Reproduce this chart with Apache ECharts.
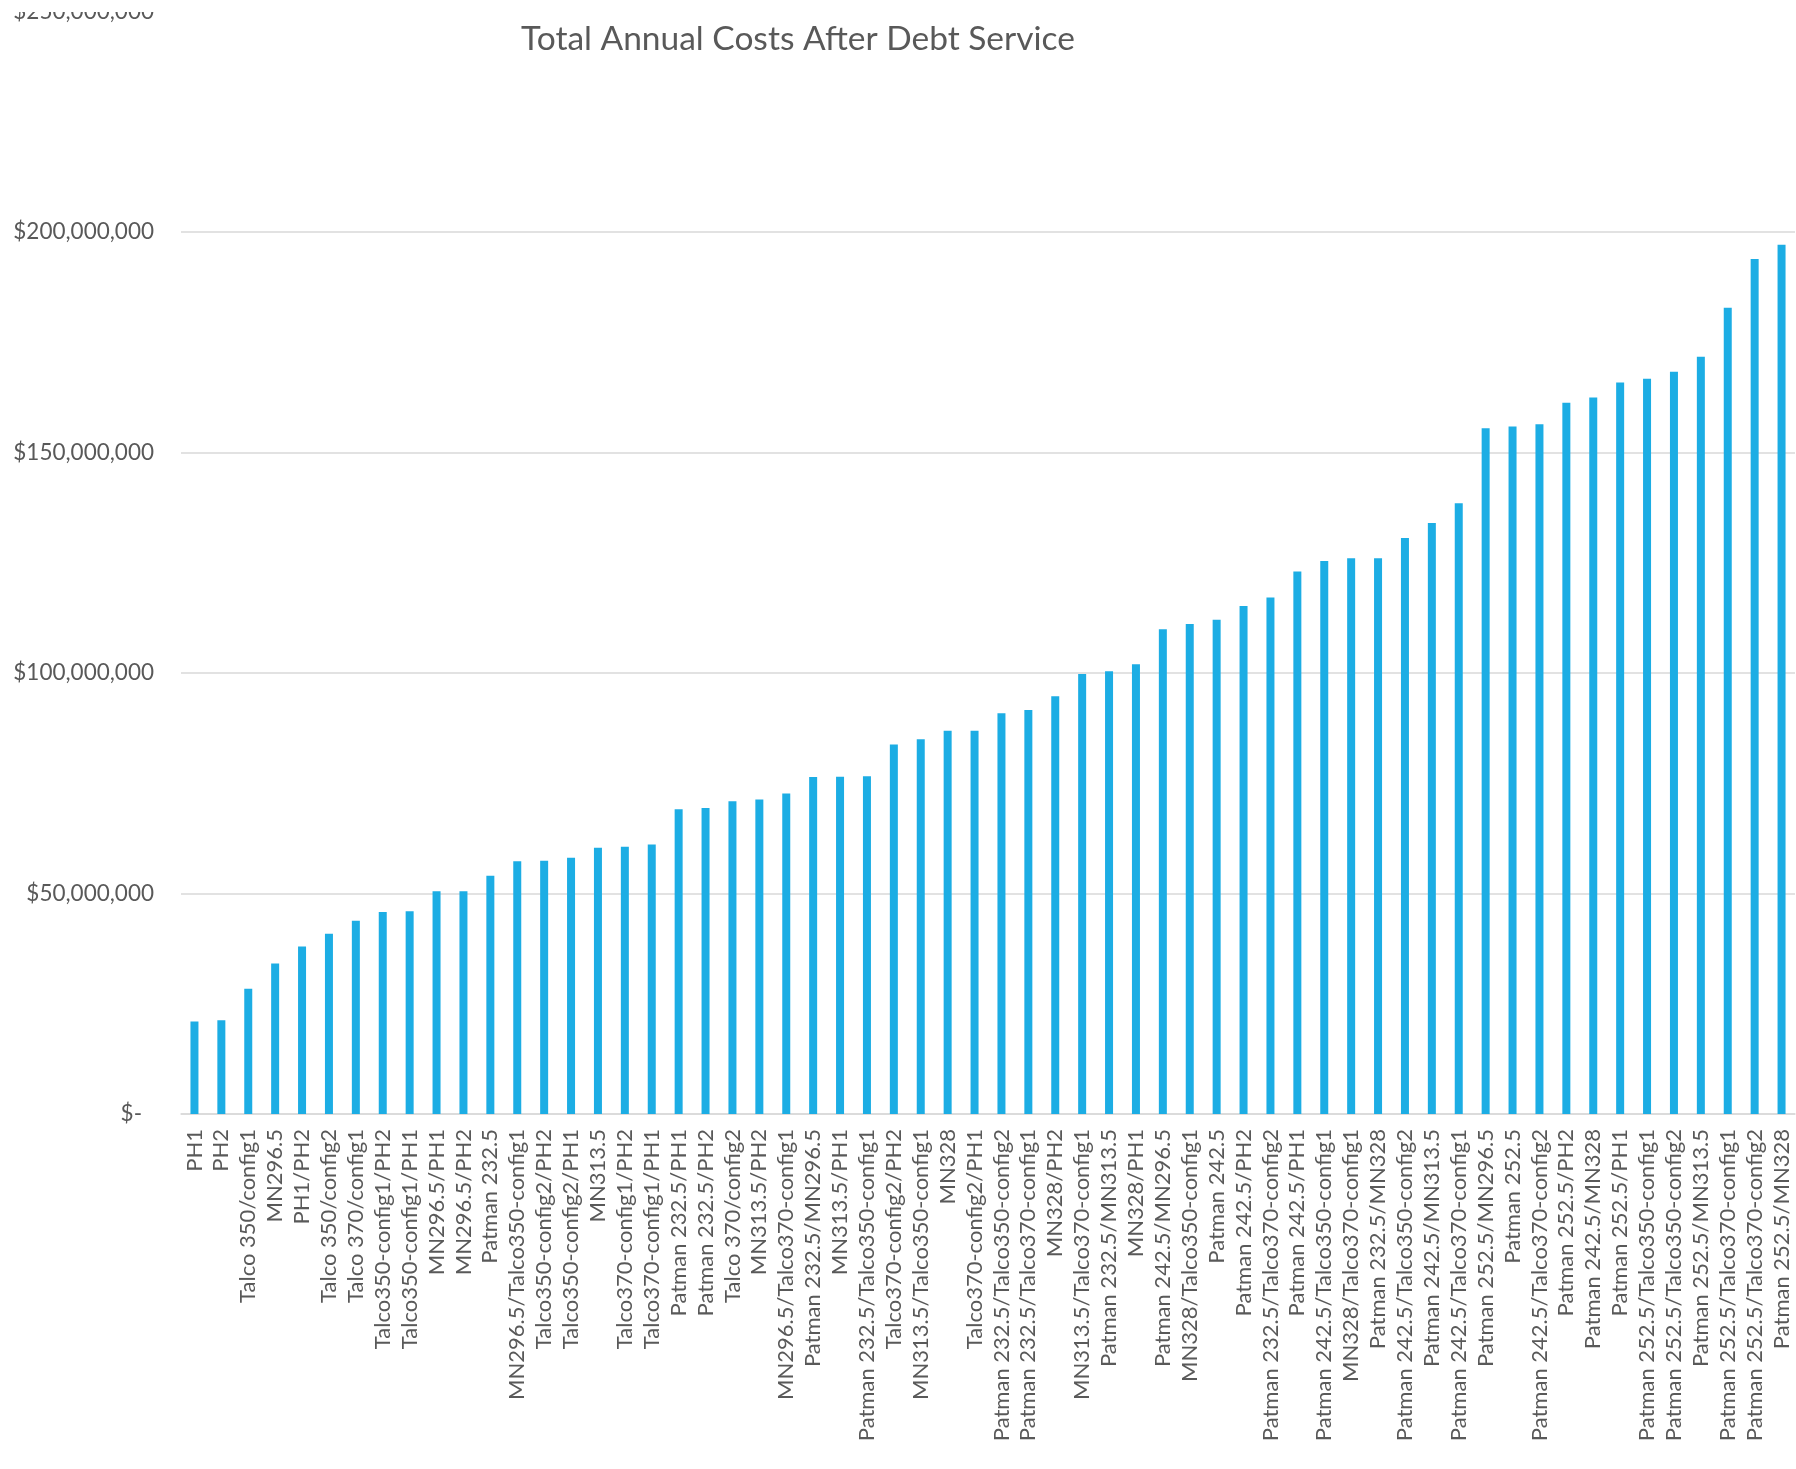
<!DOCTYPE html>
<html>
<head>
<meta charset="utf-8">
<script src="https://cdn.jsdelivr.net/npm/echarts@6/dist/echarts.min.js"></script>
<style>
  html, body { margin: 0; padding: 0; background: #ffffff; }
  #chart { width: 1796px; height: 1469px; }
</style>
</head>
<body>
<div id="chart"></div>
<script>
const titleText = 'Total Annual Costs After Debt Service';

const categories = [
  'PH1', 'PH2', 'Talco 350/config1', 'MN296.5', 'PH1/PH2',
  'Talco 350/config2', 'Talco 370/config1', 'Talco350-config1/PH2', 'Talco350-config1/PH1', 'MN296.5/PH1',
  'MN296.5/PH2', 'Patman 232.5', 'MN296.5/Talco350-config1', 'Talco350-config2/PH2', 'Talco350-config2/PH1',
  'MN313.5', 'Talco370-config1/PH2', 'Talco370-config1/PH1', 'Patman 232.5/PH1', 'Patman 232.5/PH2',
  'Talco 370/config2', 'MN313.5/PH2', 'MN296.5/Talco370-config1', 'Patman 232.5/MN296.5', 'MN313.5/PH1',
  'Patman 232.5/Talco350-config1', 'Talco370-config2/PH2', 'MN313.5/Talco350-config1', 'MN328', 'Talco370-config2/PH1',
  'Patman 232.5/Talco350-config2', 'Patman 232.5/Talco370-config1', 'MN328/PH2', 'MN313.5/Talco370-config1', 'Patman 232.5/MN313.5',
  'MN328/PH1', 'Patman 242.5/MN296.5', 'MN328/Talco350-config1', 'Patman 242.5', 'Patman 242.5/PH2',
  'Patman 232.5/Talco370-config2', 'Patman 242.5/PH1', 'Patman 242.5/Talco350-config1', 'MN328/Talco370-config1', 'Patman 232.5/MN328',
  'Patman 242.5/Talco350-config2', 'Patman 242.5/MN313.5', 'Patman 242.5/Talco370-config1', 'Patman 252.5/MN296.5', 'Patman 252.5',
  'Patman 242.5/Talco370-config2', 'Patman 252.5/PH2', 'Patman 242.5/MN328', 'Patman 252.5/PH1', 'Patman 252.5/Talco350-config1',
  'Patman 252.5/Talco350-config2', 'Patman 252.5/MN313.5', 'Patman 252.5/Talco370-config1', 'Patman 252.5/Talco370-config2', 'Patman 252.5/MN328'
];

const totalCosts = [
  21000000, 21250000, 28400000, 34100000, 38000000,
  40900000, 43800000, 45800000, 46000000, 50500000,
  50500000, 54000000, 57300000, 57400000, 58100000,
  60400000, 60600000, 61100000, 69100000, 69400000,
  70900000, 71300000, 72700000, 76400000, 76500000,
  76600000, 83800000, 85000000, 86900000, 86900000,
  90900000, 91600000, 94700000, 99800000, 100400000,
  102000000, 109900000, 111100000, 112100000, 115200000,
  117100000, 123000000, 125400000, 126000000, 126000000,
  130600000, 134000000, 138500000, 155500000, 155900000,
  156400000, 161300000, 162500000, 165900000, 166700000,
  168300000, 171700000, 182800000, 193900000, 197100000
];

const yTicks = [0, 50000000, 100000000, 150000000, 200000000, 250000000];

const textColor = '#595959';
const fontFam = 'Lato, "Open Sans", sans-serif';

const chart = echarts.init(document.getElementById('chart'), null, { renderer: 'canvas' });

chart.setOption({
  backgroundColor: '#ffffff',
  animation: false,
  title: {
    text: titleText,
    left: 516,
    top: 17,
    textStyle: { color: textColor, fontSize: 33.5, fontWeight: 'normal', fontFamily: fontFam }
  },
  graphic: [{
    type: 'rect', left: 0, top: 0, z: 100,
    shape: { width: 178, height: 12 },
    style: { fill: '#ffffff' }
  }],
  grid: { left: 181, right: 1, top: 11, bottom: 355, containLabel: false },
  xAxis: {
    type: 'category',
    data: categories,
    axisLine: { show: true, lineStyle: { color: '#D9D9D9', width: 1.5 } },
    axisTick: { show: false },
    axisLabel: {
      interval: 0, rotate: 90, margin: 15,
      color: textColor, fontSize: 22, fontFamily: fontFam
    }
  },
  yAxis: {
    type: 'value',
    min: yTicks[0],
    max: yTicks[yTicks.length - 1],
    interval: yTicks[1] - yTicks[0],
    axisLine: { show: false },
    axisTick: { show: false },
    splitLine: { show: true, showMaxLine: false, lineStyle: { color: '#D9D9D9', width: 1.5 } },
    axisLabel: {
      margin: 27,
      color: textColor, fontSize: 22.5, fontFamily: fontFam,
      formatter: function (v) {
        if (v === 0) return '{z|$-}';
        return '$' + v.toLocaleString('en-US');
      },
      rich: {
        z: { color: textColor, fontSize: 22.5, fontFamily: fontFam, padding: [0, 12, 0, 0] }
      }
    }
  },
  series: [{
    type: 'bar',
    data: totalCosts,
    barWidth: 8,
    itemStyle: { color: '#1CADE4' }
  }]
});
</script>
</body>
</html>
